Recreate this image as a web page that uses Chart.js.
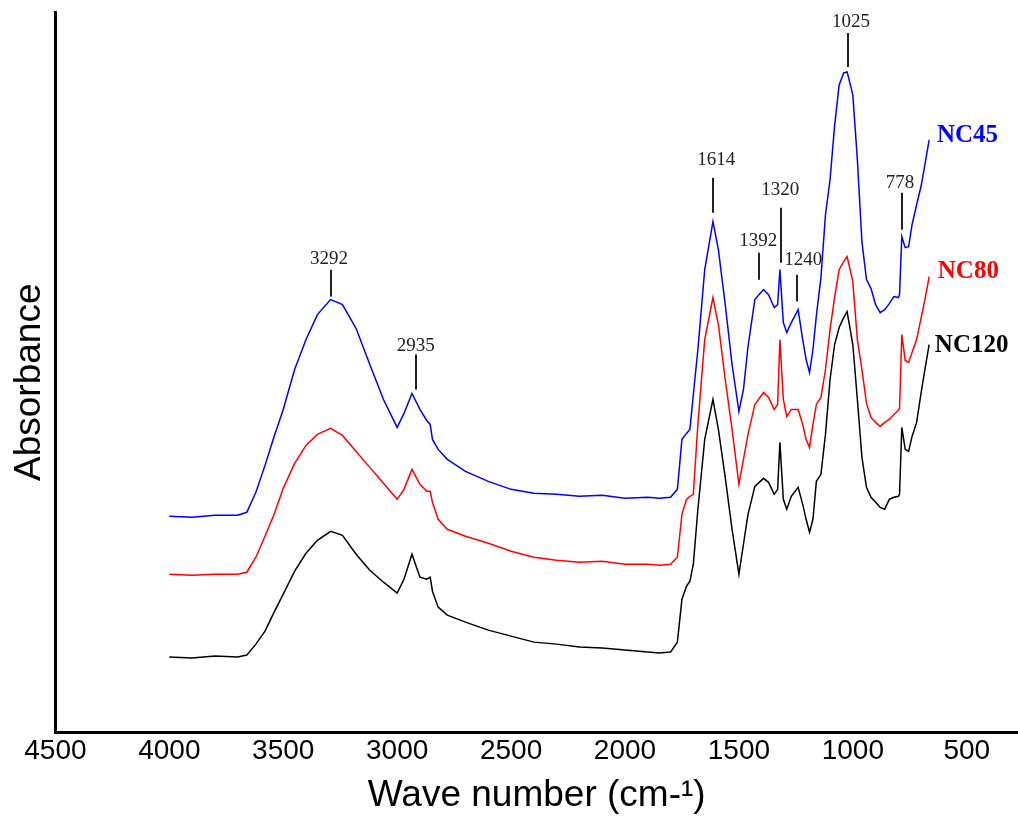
<!DOCTYPE html>
<html>
<head>
<meta charset="utf-8">
<script src="https://cdn.jsdelivr.net/npm/chart.js@4"></script>
<style>
  html, body { margin: 0; padding: 0; background: #fff; }
  canvas { display: block; }
</style>
</head>
<body>
<canvas id="ftir" width="1018" height="818"></canvas>
<script>
// wave numbers (cm-1) where the spectra were read
var wavenumbers = [4000, 3900, 3800, 3700, 3660, 3620, 3580, 3540, 3500, 3450, 3400, 3350, 3292, 3240, 3180, 3120, 3060, 3000, 2970, 2935,
  2900, 2870, 2855, 2845, 2820, 2780, 2700, 2600, 2500, 2400, 2300, 2200, 2100, 2000, 1900, 1850, 1800, 1770, 1750, 1730,
  1715, 1700, 1680, 1650, 1614, 1590, 1560, 1530, 1500, 1480, 1460, 1430, 1392, 1370, 1345, 1330, 1320, 1305, 1290, 1270,
  1240, 1220, 1205, 1190, 1175, 1160, 1140, 1120, 1100, 1080, 1060, 1040, 1025, 1000, 980, 960, 940, 920, 900, 880,
  860, 840, 820, 800, 795, 785, 770, 755, 740, 720, 700, 680, 665];

// absorbance (stacked, arbitrary units)
var nc45 = [0.216, 0.215, 0.217, 0.217, 0.220, 0.240, 0.267, 0.296, 0.323, 0.363, 0.393, 0.418, 0.433, 0.428, 0.404, 0.368, 0.333, 0.305, 0.319, 0.339,
  0.323, 0.312, 0.308, 0.293, 0.283, 0.273, 0.261, 0.251, 0.243, 0.239, 0.238, 0.236, 0.237, 0.234, 0.235, 0.234, 0.235, 0.243, 0.293, 0.299,
  0.303, 0.338, 0.383, 0.463, 0.511, 0.483, 0.428, 0.368, 0.321, 0.343, 0.386, 0.433, 0.443, 0.438, 0.425, 0.428, 0.463, 0.410, 0.400, 0.410,
  0.423, 0.393, 0.373, 0.360, 0.383, 0.417, 0.455, 0.518, 0.553, 0.607, 0.648, 0.660, 0.661, 0.638, 0.573, 0.491, 0.453, 0.444, 0.428, 0.420,
  0.423, 0.429, 0.436, 0.435, 0.438, 0.496, 0.485, 0.486, 0.508, 0.528, 0.547, 0.573, 0.593];

var nc80 = [0.158, 0.157, 0.158, 0.158, 0.160, 0.175, 0.196, 0.218, 0.244, 0.269, 0.287, 0.298, 0.304, 0.297, 0.281, 0.265, 0.249, 0.233, 0.243, 0.263,
  0.248, 0.241, 0.241, 0.230, 0.213, 0.203, 0.196, 0.189, 0.181, 0.175, 0.172, 0.170, 0.171, 0.168, 0.168, 0.167, 0.168, 0.175, 0.218, 0.233,
  0.236, 0.238, 0.308, 0.393, 0.435, 0.408, 0.353, 0.303, 0.248, 0.273, 0.298, 0.328, 0.340, 0.335, 0.323, 0.328, 0.393, 0.333, 0.316, 0.323,
  0.323, 0.308, 0.293, 0.285, 0.308, 0.328, 0.335, 0.363, 0.403, 0.435, 0.463, 0.471, 0.476, 0.451, 0.393, 0.363, 0.329, 0.315, 0.310, 0.306,
  0.310, 0.313, 0.318, 0.322, 0.324, 0.398, 0.372, 0.370, 0.380, 0.393, 0.415, 0.437, 0.456];

var nc120 = [0.075, 0.074, 0.076, 0.075, 0.077, 0.088, 0.101, 0.120, 0.138, 0.161, 0.179, 0.192, 0.201, 0.197, 0.178, 0.162, 0.150, 0.139, 0.153, 0.178,
  0.155, 0.153, 0.155, 0.141, 0.125, 0.117, 0.110, 0.102, 0.096, 0.090, 0.088, 0.085, 0.084, 0.082, 0.080, 0.079, 0.080, 0.090, 0.133, 0.146,
  0.151, 0.168, 0.223, 0.293, 0.333, 0.303, 0.255, 0.203, 0.158, 0.188, 0.218, 0.246, 0.254, 0.250, 0.238, 0.243, 0.290, 0.233, 0.223, 0.236,
  0.245, 0.228, 0.213, 0.200, 0.213, 0.251, 0.258, 0.298, 0.353, 0.388, 0.405, 0.415, 0.421, 0.388, 0.333, 0.275, 0.245, 0.235, 0.230, 0.225,
  0.223, 0.233, 0.235, 0.236, 0.238, 0.305, 0.283, 0.281, 0.296, 0.310, 0.340, 0.368, 0.388];

var seriesNames = ["NC45", "NC80", "NC120"];
var seriesColors = ["#0000ff", "#ff0000", "#000000"];

// x-axis tick labels
var xTicks = [4500, 4000, 3500, 3000, 2500, 2000, 1500, 1000, 500];

// peak assignments written above the spectra
var peakLabels = ["3292", "2935", "1614", "1392", "1320", "1240", "1025", "778"];

function toPoints(values) {
  return wavenumbers.map(function (w, i) { return { x: w, y: values[i] }; });
}

// where each peak mark sits (wave number of tick, of text; absorbance of text, tick top, tick bottom)
var peakMarks = [
  { at: 3292, textAt: 3299, textY: 0.474, top: 0.463, bottom: 0.436 },
  { at: 2918, textAt: 2918, textY: 0.387, top: 0.378, bottom: 0.343 },
  { at: 1612, textAt: 1599, textY: 0.573, top: 0.555, bottom: 0.520 },
  { at: 1411, textAt: 1415, textY: 0.492, top: 0.480, bottom: 0.453 },
  { at: 1316, textAt: 1319, textY: 0.543, top: 0.525, bottom: 0.470 },
  { at: 1244, textAt: 1218, textY: 0.473, top: 0.458, bottom: 0.431 },
  { at: 1021, textAt: 1008, textY: 0.711, top: 0.700, bottom: 0.666 },
  { at: 784, textAt: 793, textY: 0.550, top: 0.540, bottom: 0.503 }
];
var nameMarks = [
  { at: 631, y: 0.597 },
  { at: 627, y: 0.461 },
  { at: 640, y: 0.387 }
];

var peakPlugin = {
  id: 'peakMarks',
  afterDatasetsDraw: function (chart) {
    var ctx = chart.ctx, xs = chart.scales.x, ys = chart.scales.y;
    ctx.save();
    ctx.strokeStyle = '#222';
    ctx.lineWidth = 2;
    ctx.fillStyle = '#222';
    ctx.font = '19px "Liberation Serif", "Times New Roman", serif';
    ctx.textAlign = 'center';
    ctx.textBaseline = 'middle';
    peakMarks.forEach(function (m, i) {
      var x = Math.round(xs.getPixelForValue(m.at));
      ctx.beginPath();
      ctx.moveTo(x, ys.getPixelForValue(m.top));
      ctx.lineTo(x, ys.getPixelForValue(m.bottom));
      ctx.stroke();
      ctx.fillText(peakLabels[i], xs.getPixelForValue(m.textAt), ys.getPixelForValue(m.textY));
    });
    ctx.font = 'bold 25px "Liberation Serif", "Times New Roman", serif';
    ctx.textAlign = 'left';
    nameMarks.forEach(function (m, i) {
      ctx.fillStyle = seriesColors[i];
      ctx.fillText(seriesNames[i], xs.getPixelForValue(m.at), ys.getPixelForValue(m.y));
    });
    ctx.restore();
  }
};

var ctx = document.getElementById("ftir");
var chart = new Chart(ctx, {
  type: 'line',
  data: {
    datasets: [
      { label: seriesNames[0], data: toPoints(nc45), borderColor: seriesColors[0], borderWidth: 1.5, pointRadius: 0, fill: false },
      { label: seriesNames[1], data: toPoints(nc80), borderColor: seriesColors[1], borderWidth: 1.5, pointRadius: 0, fill: false },
      { label: seriesNames[2], data: toPoints(nc120), borderColor: seriesColors[2], borderWidth: 1.5, pointRadius: 0, fill: false }
    ]
  },
  options: {
    responsive: false,
    animation: false,
    layout: { padding: { top: 12, left: 0, right: 0, bottom: 0 } },
    plugins: { legend: { display: false }, tooltip: { enabled: false } },
    scales: {
      x: {
        type: 'linear',
        reverse: true,
        min: 275,
        max: 4500,
        afterBuildTicks: function (axis) {
          axis.ticks = xTicks.map(function (v) { return { value: v }; });
        },
        grid: { display: false, drawTicks: false },
        border: { display: true, color: '#000', width: 3 },
        ticks: {
          autoSkip: false,
          maxRotation: 0,
          padding: 2,
          color: '#000',
          font: { family: '"Liberation Sans", Arial, sans-serif', size: 28 },
          callback: function (v) { return String(v); }
        },
        title: {
          display: true,
          text: 'Wave number (cm-¹)',
          color: '#000',
          padding: { top: 4, bottom: 0 },
          font: { family: '"Liberation Sans", Arial, sans-serif', size: 37 }
        }
      },
      y: {
        min: 0,
        max: 0.721,
        grid: { display: false, drawTicks: false },
        border: { display: true, color: '#000', width: 3 },
        ticks: { display: false },
        title: {
          display: true,
          text: 'Absorbance  ',
          color: '#000',
          padding: { top: 8, bottom: 3 },
          font: { family: '"Liberation Sans", Arial, sans-serif', size: 37 }
        }
      }
    }
  },
  plugins: [peakPlugin]
});
</script>
</body>
</html>
